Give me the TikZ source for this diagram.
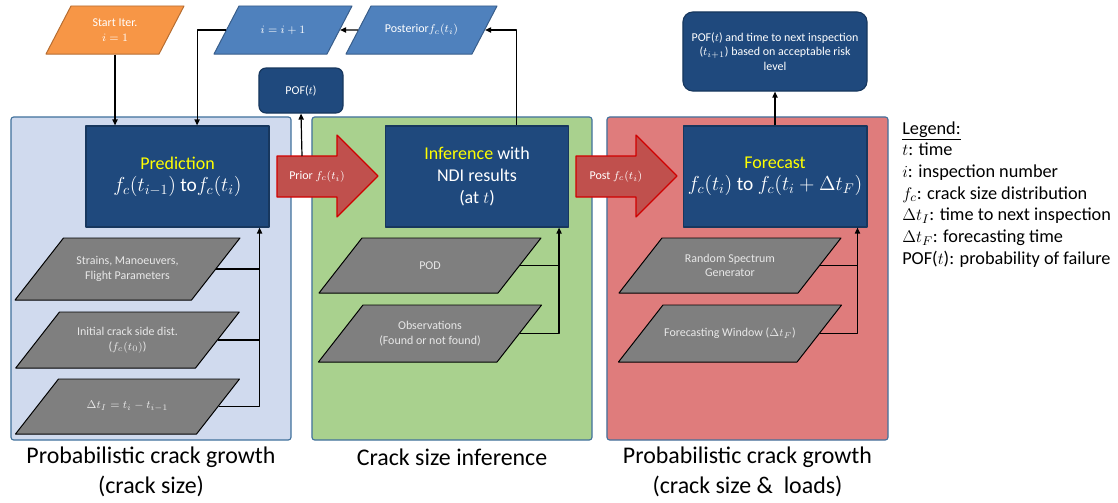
\documentclass[tikz,border=0pt]{standalone}
\usepackage{fontspec}
\setmainfont{Carlito}
\usepackage{xcolor}
\usetikzlibrary{arrows.meta,shapes.geometric}
\definecolor{panelline}{HTML}{41719C}
\definecolor{predpanel}{HTML}{D0DAEE}
\definecolor{infpanel}{HTML}{A9D18E}
\definecolor{forepanel}{HTML}{DF7C7C}
\definecolor{processfill}{HTML}{1F497D}
\definecolor{processline}{HTML}{17375E}
\definecolor{inputgray}{HTML}{7F7F7F}
\definecolor{inputtext}{HTML}{E8E8E8}
\definecolor{iterblue}{HTML}{4F81BD}
\definecolor{iterline}{HTML}{385D8A}
\definecolor{startorange}{HTML}{F79646}
\definecolor{startline}{HTML}{B66D31}
\definecolor{blockred}{HTML}{C0504D}
\definecolor{blockline}{HTML}{D00000}
\definecolor{titleyellow}{HTML}{FFFF00}
% text of a parallelogram: height, width, text
\newcommand{\paratext}[3]{\parbox[c][#1][c]{#2}{\centering #3}}
\newcommand{\bigmath}[1]{{\fontsize{13.8}{15.6}\selectfont #1}}

\begin{document}
\begin{tikzpicture}[
  x=0.025cm,
  y=-0.025cm,
  font=\fontsize{8.5}{10.5}\selectfont,
  line join=round,
  conn/.style={
    -{Triangle[length=1.5mm,width=1.3mm]},
    line width=0.85pt
  },
  stub/.style={
    line width=0.85pt
  },
  panel/.style={
    rectangle,
    rounded corners=2pt,
    draw=panelline,
    line width=0.8pt,
    minimum width=7cm,
    minimum height=8.075cm
  },
  process/.style={
    rectangle,
    draw=processline,
    fill=processfill,
    text=white,
    line width=0.8pt,
    minimum width=4.575cm,
    minimum height=2.525cm,
    align=center,
    font=\fontsize{12.8}{15.6}\selectfont
  },
  outbox/.style={
    rectangle,
    rounded corners=5pt,
    draw=processline,
    fill=processfill,
    text=white,
    line width=0.8pt,
    align=center
  },
  inputpara/.style={
    trapezium,
    trapezium left angle=52,
    trapezium right angle=128,
    draw=black,
    fill=inputgray,
    text=inputtext,
    line width=0.7pt,
    inner sep=0pt
  },
  iterpara/.style={
    trapezium,
    trapezium left angle=62.5,
    trapezium right angle=117.5,
    line width=0.7pt,
    text=white,
    inner sep=0pt
  },
  blockarrow/.style={
    draw=blockline,
    fill=blockred,
    line width=0.8pt
  },
  caption/.style={
    align=center,
    font=\fontsize{17}{21.3}\selectfont
  },
  legendtext/.style={
    anchor=base west,
    inner sep=0pt,
    font=\fontsize{13}{15.6}\selectfont
  }
]
\useasboundingbox (0,0) rectangle (1118,502);

% ------------------------------------------------------------
% Three stages
% ------------------------------------------------------------

\node[panel,fill=predpanel] (panelone) at (151,278.5) {};
\node[panel,fill=infpanel] (paneltwo) at (452,278.5) {};
\node[panel,fill=forepanel,minimum width=7.025cm] (panelthree) at (747.5,278.5) {};

\node[process] (prediction) at (177.5,176.5)
  {\textcolor{titleyellow}{Prediction}\\
   \bigmath{$f_c(t_{i-1})$ to$f_c(t_i)$}};
\node[process] (inference) at (477,176.5)
  {\textcolor{titleyellow}{Inference} with\\
   NDI results\\
   (at $t$)};
\node[process] (forecast) at (775,176.5)
  {\textcolor{titleyellow}{Forecast}\\
   \bigmath{$f_c(t_i)$ to $f_c(t_i+\Delta t_F)$}};

% ------------------------------------------------------------
% Inputs of each stage
% ------------------------------------------------------------

\node[inputpara] (strains) at (127.5,269)
  {\paratext{1.55cm}{3.2cm}{Strains, Manoeuvers,\\Flight Parameters}};
\node[inputpara] (initdist) at (127.5,340)
  {\paratext{1.4cm}{3.4cm}{Initial crack side dist.\\($f_c(t_0)$)}};
\node[inputpara] (deltati) at (127.5,406.5)
  {\paratext{1.375cm}{3.45cm}{$\Delta t_I = t_i - t_{i-1}$}};

\node[inputpara] (pod) at (430,265.5)
  {\paratext{1.375cm}{3.4cm}{POD}};
\node[inputpara] (observ) at (430,333.5)
  {\paratext{1.425cm}{3.35cm}{Observations\\(Found or not found)}};

\node[inputpara] (spectrum) at (730,265.5)
  {\paratext{1.375cm}{3.4cm}{Random Spectrum\\Generator}};
\node[inputpara] (fwindow) at (730,333.5)
  {\paratext{1.425cm}{3.35cm}{Forecasting Window ($\Delta t_F$)}};

\coordinate (predin) at ([xshift=-0.25cm]prediction.south east);
\coordinate (infin) at ([xshift=-0.25cm]inference.south east);
\coordinate (forein) at ([xshift=-0.25cm]forecast.south east);

\draw[conn] (deltati.east) -| (predin);
\draw[stub] (strains.east) -- (strains.east -| predin);
\draw[stub] (initdist.east) -- (initdist.east -| predin);

\draw[conn] (observ.east) -| (infin);
\draw[stub] (pod.east) -- (pod.east -| infin);

\draw[conn] (fwindow.east) -| (forein);
\draw[stub] (spectrum.east) -- (spectrum.east -| forein);

% ------------------------------------------------------------
% Iteration loop
% ------------------------------------------------------------

\node[iterpara,draw=startline,fill=startorange] (start) at (115,30)
  {\paratext{1.2cm}{2.2cm}{Start Iter.\\$i=1$}};
\node[iterpara,draw=iterline,fill=iterblue] (iplus) at (283,30)
  {\paratext{1.2cm}{2.2cm}{$i=i+1$}};
\node[iterpara,draw=iterline,fill=iterblue] (posterior) at (421.5,30)
  {\paratext{1.2cm}{2.525cm}{Posterior$f_c(t_i)$}};

\draw[conn] (start.south) -- (start.south |- prediction.north);
\draw[conn] (iplus.west) -| ([xshift=0.49cm]prediction.north);
\draw[conn] (posterior.west) -- (iplus.east);
\draw[conn] ([xshift=0.98cm]inference.north) |- (posterior.east);

% ------------------------------------------------------------
% Block arrows between the stages
% ------------------------------------------------------------

\foreach \x/\name/\lbl in {277/prior/Prior,576/post/Post}{
  \draw[blockarrow]
    (\x,156) -- ++(60,0) -- ++(0,-21) -- ++(41,41)
    -- ++(-41,41) -- ++(0,-20) -- ++(-60,0) -- cycle;
  \node[text=white] (\name) at (\x+40,176.5) {\lbl{} $f_c(t_i)$};
}
\coordinate (priortop) at (302,156);

\node[outbox,minimum width=2.1cm,minimum height=1.125cm] (pof) at (301,90.5)
  {POF($t$)};
\draw[conn] (priortop) -- (pof.south);

\node[outbox,rounded corners=7pt,minimum width=4.6cm,minimum height=1.975cm,
  inner sep=2pt] (riskbox) at (775,51.5)
  {POF($t$) and time to next inspection\\
   ($t_{i+1}$) based on acceptable risk\\
   level};
\draw[conn] (forecast.north) -- (riskbox.south);

% ------------------------------------------------------------
% Captions and legend
% ------------------------------------------------------------

\node[caption] (captionone) at (151,472)
  {Probabilistic crack growth\\(crack size)};
\node[caption] (captiontwo) at (452,457) {Crack size inference};
\node[caption] (captionthree) at (747.5,472)
  {Probabilistic crack growth\\(crack size \&\ \ loads)};

\foreach \txt [count=\k from 0] in {
  {\underline{Legend:}},
  {$t$: time},
  {$i$: inspection number},
  {$f_c$: crack size distribution},
  {$\Delta t_I$: time to next inspection},
  {$\Delta t_F$: forecasting time},
  {POF($t$): probability of failure}}{
  \node[legendtext] (legend\k) at (902,134+21.7*\k) {\txt};
}
\end{tikzpicture}
\end{document}
